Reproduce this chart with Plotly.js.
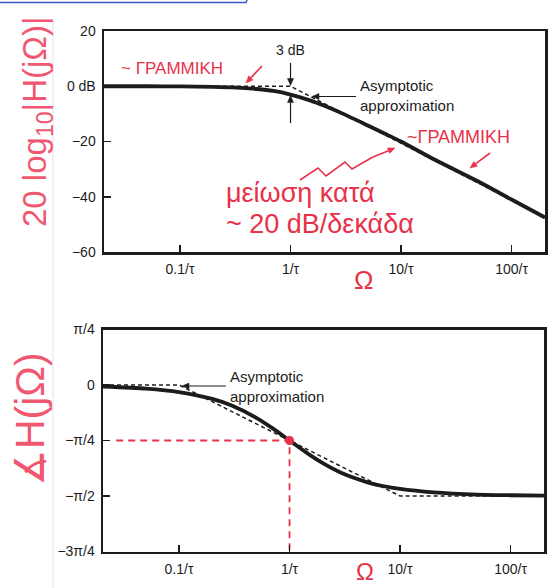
<!DOCTYPE html>
<html>
<head>
<meta charset="utf-8">
<script src="https://cdn.plot.ly/plotly-3.0.1.min.js"></script>
<style>html,body{margin:0;padding:0;background:#fff;}#chart{width:552px;height:588px;}</style>
</head>
<body>
<div id="chart"></div>
<script>
// ---- data ----
const omega = [0.0205, 0.05, 0.1, 0.2, 0.3, 0.5, 0.7, 1, 1.5, 2, 3, 5, 7, 10, 20, 50, 100, 201];
const magDb = [0, 0, -0.05, -0.2, -0.4, -1.0, -1.7, -3.0, -5.1, -7.0, -10.0, -14.2, -17.0, -20.0, -26.5, -34.5, -41.0, -47.5];
const phaseDeg = [-1.2, -2.9, -5.7, -11.3, -16.7, -26.6, -35.0, -45.0, -56.3, -63.4, -71.6, -78.7, -81.9, -84.3, -87.1, -88.9, -89.4, -89.7];
const magAsymX = [0.0205, 1, 201];
const magAsymY = [0, 0, -47.5];
const phAsymX = [0.0205, 0.1, 10, 201];
const phAsymY = [0, 0, -90, -90];
const guideX = [0.027, 1, 1];
const guideY = [-45, -45, -135];
const markX = [1];
const markY = [-45];
const xTickVals = [0.1, 1, 10, 100];
const xTickText = ['0.1/τ', '1/τ', '10/τ', '100/τ'];
const magTickVals = [20, 0, -20, -40, -60];
const magTickText = ['20', '0 dB', '−20', '−40', '−60'];
const phTickVals = [45, 0, -45, -90, -135];
const phTickText = ['π/4', '0', '−π/4', '−π/2', '−3π/4'];

// ---- helpers ----
const W = 552, H = 588;
const P = px => px / W;
const Q = py => 1 - py / H;
const INK = '#1c1c1c';
const RED = '#e8324a';
const PINK = '#ef5870';
const FAM = 'Liberation Sans, Arial, sans-serif';
const tf = {family: FAM, size: 14, color: INK};

function xAxis(dom, anchor) {
  return {type: 'log', range: [-1.688, 2.303], domain: dom, anchor: anchor,
    tickvals: xTickVals, ticktext: xTickText, ticks: 'inside', ticklen: 7, tickwidth: 1.5,
    tickcolor: INK, showline: true, linewidth: 2.5, linecolor: INK, mirror: true,
    showgrid: false, zeroline: false, tickfont: tf, ticklabelstandoff: 3, fixedrange: true};
}
function yAxis(dom, anchor, rng, tv, tt) {
  return {range: rng, domain: dom, anchor: anchor, tickvals: tv, ticktext: tt,
    ticks: 'inside', ticklen: 7, tickwidth: 1.5, tickcolor: INK, showline: true,
    linewidth: 2.5, linecolor: INK, mirror: true, showgrid: false, zeroline: false,
    tickfont: tf, ticklabelstandoff: 3, fixedrange: true};
}

const traces = [
  {x: magAsymX, y: magAsymY, xaxis: 'x', yaxis: 'y', mode: 'lines',
   line: {color: INK, width: 1.5, dash: '4px,3px'}, hoverinfo: 'skip'},
  {x: omega, y: magDb, xaxis: 'x', yaxis: 'y', mode: 'lines',
   line: {color: INK, width: 3.8, shape: 'spline', smoothing: 0.6}, hoverinfo: 'skip'},
  {x: phAsymX, y: phAsymY, xaxis: 'x2', yaxis: 'y2', mode: 'lines',
   line: {color: INK, width: 1.5, dash: '4px,3px'}, hoverinfo: 'skip'},
  {x: omega, y: phaseDeg, xaxis: 'x2', yaxis: 'y2', mode: 'lines',
   line: {color: INK, width: 3.8, shape: 'spline', smoothing: 0.6}, hoverinfo: 'skip'},
  {x: guideX, y: guideY, xaxis: 'x2', yaxis: 'y2', mode: 'lines',
   line: {color: RED, width: 1.8, dash: '7px,5px'}, hoverinfo: 'skip'},
  {x: markX, y: markY, xaxis: 'x2', yaxis: 'y2', mode: 'markers',
   marker: {color: RED, size: 9}, hoverinfo: 'skip'}
];

function pathFrom(pts, close) {
  return pts.map((p, i) => (i ? 'L' : 'M') + P(p[0]).toFixed(4) + ',' + Q(p[1]).toFixed(4)).join(' ') + (close ? ' Z' : '');
}
// arrow drawn as a line plus a filled head (pixel positions of a decoration)
function arrowShapes(tx, ty, hx, hy, color, w) {
  const c = color || INK, lw = w || 1.2;
  const dx = hx - tx, dy = hy - ty, L = Math.hypot(dx, dy), ux = dx / L, uy = dy / L;
  const len = 7, half = 3;
  const bx = hx - ux * len, by = hy - uy * len;
  return [
    {type: 'path', xref: 'paper', yref: 'paper', path: pathFrom([[tx, ty], [bx, by]]), line: {color: c, width: lw}},
    {type: 'path', xref: 'paper', yref: 'paper',
     path: pathFrom([[hx, hy], [bx - uy * half, by + ux * half], [bx + uy * half, by - ux * half]], true),
     fillcolor: c, line: {color: c, width: 0.5}}
  ];
}
function label(text, px, py, size, color, xanchor, extra) {
  return Object.assign({xref: 'paper', yref: 'paper', x: P(px), y: Q(py), text: text,
    showarrow: false, xanchor: xanchor || 'center', yanchor: 'middle', align: 'left',
    font: {family: FAM, size: size, color: color || INK}}, extra || {});
}

const annotations = [
  label('3 dB', 290.5, 50, 14),
  label('Asymptotic<br>approximation', 358, 96, 15, INK, 'left'),
  label('Asymptotic<br>approximation', 228, 386, 15, INK, 'left'),
  label('~ ΓΡΑΜΜΙΚΗ', 119, 68, 17, RED, 'left'),
  label('~ΓΡΑΜΜΙΚΗ', 405, 137, 18, RED, 'left'),
  label('μείωση κατά', 224, 193, 27, RED, 'left'),
  label('~ 20 dB/δεκάδα', 224, 224, 27, RED, 'left'),
  label('Ω', 363, 280, 26, RED),
  label('Ω', 365, 571, 24, RED),
  label('20 log<sub>10</sub>|H(jΩ)|', 37, 122, 33, PINK, 'center', {textangle: -90}),
  label('∡H(jΩ)', 30, 419, 41, PINK, 'center', {textangle: -90})
];

const shapes = [].concat(
  arrowShapes(290.5, 63, 290.5, 85.5),
  arrowShapes(290.5, 123, 290.5, 95.5),
  arrowShapes(356, 96.5, 312, 96.5),
  arrowShapes(226, 386, 182, 386),
  arrowShapes(262, 66, 246, 83, RED, 1.6),
  arrowShapes(490, 153, 470, 168, RED, 1.6),
  arrowShapes(373, 157, 395, 148, RED, 1.6),
  [
    {type: 'path', xref: 'paper', yref: 'paper',
     path: pathFrom([[300, 180], [318, 168], [326, 176], [345, 162], [352, 169], [373, 157]]),
     line: {color: RED, width: 1.6}},
    {type: 'path', xref: 'paper', yref: 'paper',
     path: pathFrom([[0, 2.5], [246, 2.5], [247, 0]]),
     line: {color: '#3f55c8', width: 1.5}},
    {type: 'line', xref: 'paper', yref: 'paper', x0: P(53), x1: P(53), y0: Q(22), y1: Q(588),
     line: {color: '#dfe3ec', width: 1}}
  ]
);

const layout = {
  width: W, height: H, margin: {l: 0, r: 0, t: 0, b: 0},
  paper_bgcolor: '#fff', plot_bgcolor: '#fff', showlegend: false,
  xaxis: xAxis([P(104), P(545)], 'y'),
  yaxis: yAxis([Q(252), Q(31)], 'x', [-60, 20], magTickVals, magTickText),
  xaxis2: xAxis([P(103), P(544)], 'y2'),
  yaxis2: yAxis([Q(551.5), Q(329.5)], 'x2', [-135, 45], phTickVals, phTickText),
  annotations: annotations, shapes: shapes
};

Plotly.newPlot('chart', traces, layout, {displayModeBar: false, staticPlot: true});
</script>
</body>
</html>
